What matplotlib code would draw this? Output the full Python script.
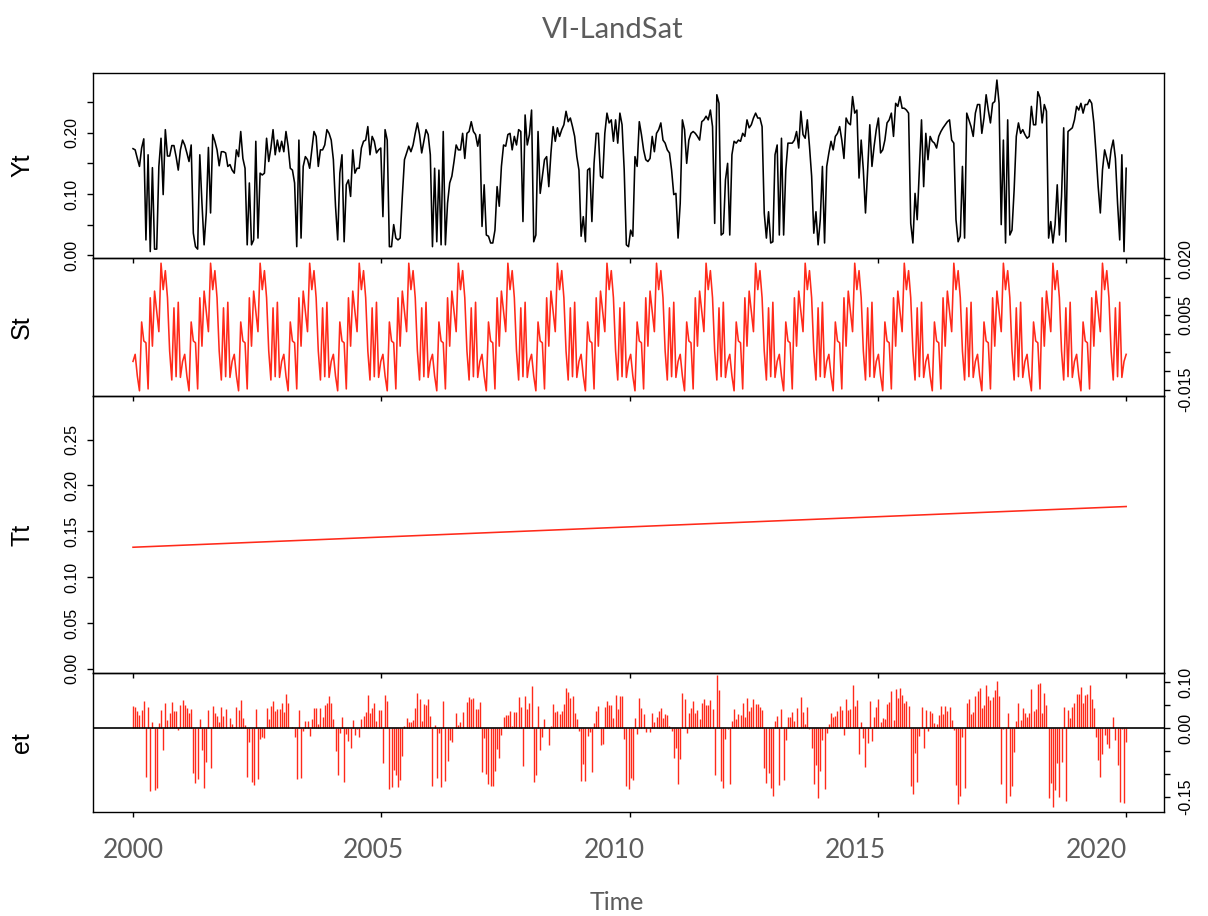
import numpy as np
import matplotlib
matplotlib.use("Agg")
import matplotlib.pyplot as plt
from matplotlib.ticker import FixedLocator, FixedFormatter
from matplotlib.transforms import blended_transform_factory

# ---------------- data ----------------
title = "VI-LandSat"
panel_labels = ["Yt", "St", "Tt", "et"]
year_labels = [2000, 2005, 2010, 2015, 2020]
x_title = "Time"
t_start = 2000.0
t_step = 1 / 22.35          # time between observations (label-year units)
period = 23                 # observations per seasonal cycle

yt_c00 = [0.174,0.172,0.158,0.145,0.175,0.190,0.025,0.164,0.006,0.143,0.010,0.010,0.145,0.191,0.099,0.205,0.162,0.162,0.179,0.179,0.161,0.139,0.172]
yt_c01 = [0.188,0.180,0.167,0.153,0.180,0.036,0.014,0.010,0.164,0.085,0.017,0.069,0.176,0.069,0.197,0.186,0.172,0.146,0.169,0.169,0.167,0.145,0.148]
yt_c02 = [0.139,0.134,0.172,0.161,0.202,0.158,0.142,0.017,0.118,0.017,0.025,0.186,0.028,0.134,0.131,0.134,0.191,0.153,0.175,0.205,0.164,0.188,0.169]
yt_c03 = [0.186,0.169,0.202,0.178,0.142,0.139,0.118,0.014,0.188,0.028,0.145,0.161,0.156,0.142,0.172,0.202,0.194,0.145,0.172,0.172,0.180,0.205,0.199]
yt_c04 = [0.188,0.156,0.080,0.025,0.134,0.164,0.022,0.115,0.123,0.096,0.172,0.134,0.142,0.142,0.175,0.186,0.188,0.210,0.164,0.194,0.186,0.167,0.172]
yt_c05 = [0.175,0.063,0.205,0.188,0.014,0.014,0.050,0.028,0.025,0.028,0.096,0.156,0.167,0.178,0.169,0.180,0.199,0.216,0.197,0.167,0.186,0.205,0.197]
yt_c06 = [0.164,0.014,0.142,0.022,0.139,0.017,0.202,0.017,0.085,0.118,0.129,0.153,0.180,0.172,0.172,0.199,0.158,0.199,0.202,0.218,0.202,0.197,0.178]
yt_c07 = [0.197,0.047,0.115,0.033,0.031,0.020,0.020,0.041,0.112,0.080,0.145,0.180,0.178,0.197,0.199,0.172,0.194,0.180,0.205,0.202,0.055,0.229,0.180]
yt_c08 = [0.197,0.237,0.022,0.033,0.202,0.101,0.129,0.156,0.161,0.112,0.167,0.210,0.186,0.208,0.194,0.205,0.213,0.235,0.218,0.224,0.210,0.194,0.161]
yt_c09 = [0.139,0.031,0.063,0.022,0.139,0.142,0.055,0.150,0.199,0.199,0.129,0.126,0.199,0.232,0.216,0.221,0.186,0.221,0.183,0.232,0.213,0.139,0.017]
yt_c10 = [0.014,0.041,0.031,0.161,0.145,0.218,0.197,0.172,0.156,0.153,0.158,0.194,0.169,0.199,0.205,0.216,0.188,0.183,0.172,0.167,0.139,0.099,0.101]
yt_c11 = [0.028,0.085,0.221,0.205,0.150,0.188,0.199,0.202,0.199,0.194,0.188,0.218,0.221,0.227,0.221,0.237,0.210,0.052,0.262,0.248,0.033,0.036,0.123]
yt_c12 = [0.150,0.033,0.164,0.186,0.183,0.188,0.186,0.199,0.194,0.221,0.208,0.213,0.224,0.232,0.224,0.224,0.210,0.069,0.028,0.071,0.020,0.022,0.164]
yt_c13 = [0.180,0.033,0.191,0.033,0.139,0.183,0.183,0.183,0.188,0.202,0.175,0.235,0.197,0.191,0.221,0.178,0.129,0.036,0.071,0.017,0.058,0.145,0.020]
yt_c14 = [0.145,0.167,0.186,0.172,0.194,0.199,0.210,0.188,0.158,0.224,0.216,0.213,0.259,0.232,0.237,0.126,0.188,0.139,0.069,0.139,0.213,0.145,0.178]
yt_c15 = [0.205,0.224,0.167,0.172,0.188,0.216,0.221,0.232,0.194,0.248,0.243,0.259,0.240,0.240,0.237,0.232,0.052,0.020,0.101,0.058,0.139,0.221,0.112]
yt_c16 = [0.199,0.156,0.194,0.186,0.183,0.175,0.194,0.202,0.208,0.213,0.218,0.221,0.188,0.183,0.058,0.022,0.031,0.145,0.028,0.232,0.221,0.210,0.194]
yt_c17 = [0.232,0.246,0.246,0.199,0.224,0.262,0.237,0.216,0.248,0.251,0.286,0.248,0.050,0.188,0.020,0.221,0.033,0.041,0.107,0.194,0.216,0.199,0.205]
yt_c18 = [0.197,0.191,0.194,0.243,0.213,0.213,0.267,0.257,0.216,0.246,0.235,0.028,0.055,0.020,0.050,0.115,0.033,0.096,0.208,0.022,0.202,0.205,0.208]
yt_c19 = [0.221,0.243,0.237,0.248,0.232,0.246,0.246,0.254,0.248,0.216,0.167,0.112,0.069,0.139,0.172,0.158,0.142,0.172,0.188,0.158,0.085,0.025,0.164]
yt_c20 = [0.006,0.142]

# one seasonal cycle of St (23 observations)
season = [-0.0074,-0.0055,-0.0113,-0.0153,0.0032,-0.0019,-0.0024,-0.0148,0.0097,-0.0033,
          0.0115,0.0061,0.0006,0.0190,0.0119,0.0170,0.0097,-0.0046,-0.0124,0.0070,
          -0.0115,0.0085,-0.0117]

# linear trend Tt: value at first and last observation
trend_start = 0.1326
trend_end = 0.1770

# ---------------- derived series ----------------
yt = np.array(yt_c00 + yt_c01 + yt_c02 + yt_c03 + yt_c04 + yt_c05 + yt_c06 + yt_c07
              + yt_c08 + yt_c09 + yt_c10 + yt_c11 + yt_c12 + yt_c13 + yt_c14 + yt_c15
              + yt_c16 + yt_c17 + yt_c18 + yt_c19 + yt_c20)
n = len(yt)
t = t_start + t_step * np.arange(n)
st = np.tile(np.array(season), n // period + 1)[:n]
tt = np.linspace(trend_start, trend_end, n)
et = yt - st - tt

# ---------------- figure ----------------
W, H = 1208, 916
fig = plt.figure(figsize=(W / 100, H / 100), dpi=100)
RED = "#ff2a1a"
GRAY = "#5c5c5c"
TICKFONT = "Liberation Sans"
GEOFONT = "Lato"

L, R = 93, 1164
rows = [(73, 258), (258, 396), (396, 673), (673, 812)]
axes = []
for top, bot in rows:
    ax = fig.add_axes([L / W, 1 - bot / H, (R - L) / W, (bot - top) / H])
    ax.set_facecolor("none")
    for s in ax.spines.values():
        s.set_linewidth(1.0)
        s.set_color("black")
    axes.append(ax)
ax_y, ax_s, ax_t, ax_e = axes

xlim = (1999.169, 2021.412)
xq = [t[0] + k * (t[-1] - t[0]) / 4 for k in range(5)]
for ax in axes:
    ax.set_xlim(*xlim)
    ax.set_xticks(xq)
    ax.tick_params(axis="x", direction="out", length=3.5, width=1.0,
                   labelbottom=False)

# series
ax_y.plot(t, yt, color="black", lw=1.15)
ax_s.plot(t, st, color=RED, lw=1.15)
ax_t.plot(t, tt, color=RED, lw=1.15)
ax_e.axhline(0, color="black", lw=1.2, zorder=3)
ax_e.vlines(t, 0, et, color=RED, lw=1.0)

ax_y.set_ylim(-0.0045, 0.2975)
ax_t.set_ylim(-0.0045, 0.2975)
ax_s.set_ylim(-0.0167, 0.0204)
ax_e.set_ylim(-0.1826, 0.1196)

def set_yaxis(ax, ticks, labels, side):
    ax.yaxis.set_major_locator(FixedLocator(ticks))
    ax.yaxis.set_major_formatter(FixedFormatter(labels))
    if side == "right":
        ax.yaxis.tick_right()
    else:
        ax.yaxis.tick_left()
    ax.tick_params(axis="y", direction="out", length=4, width=1.0,
                   labelsize=11.5, labelrotation=90, pad=6)
    for lab in ax.get_yticklabels():
        lab.set_fontfamily(TICKFONT)
        lab.set_verticalalignment("center")

yt_ticks = [0.0, 0.05, 0.10, 0.15, 0.20, 0.25]
set_yaxis(ax_y, yt_ticks, ["0.00", "", "0.10", "", "0.20", ""], "left")
st_ticks = [-0.015, -0.010, -0.005, 0.0, 0.005, 0.010, 0.015, 0.020]
set_yaxis(ax_s, st_ticks, ["-0.015", "", "", "", "0.005", "", "", "0.020"], "right")
set_yaxis(ax_t, yt_ticks, ["0.00", "0.05", "0.10", "0.15", "0.20", "0.25"], "left")
et_ticks = [-0.15, -0.10, -0.05, 0.0, 0.05, 0.10]
set_yaxis(ax_e, et_ticks, ["-0.15", "", "", "0.00", "", "0.10"], "right")

# panel labels
for (top, bot), lab in zip(rows, panel_labels):
    fig.text(22 / W, 1 - (top + bot) / 2 / H, lab, rotation=90, ha="center",
             va="center", fontsize=18, family=TICKFONT, color="black")

# time labels
tr = blended_transform_factory(ax_e.transData, ax_e.transAxes)
for yr in year_labels:
    ax_e.text(yr, -(850 - 812) / (812 - 673), str(yr), transform=tr, ha="center",
              va="center", fontsize=19, family=GEOFONT, color=GRAY)

fig.text(617 / W, 1 - 902 / H, x_title, ha="center", va="center", fontsize=18,
         family=GEOFONT, color=GRAY)
fig.text(613 / W, 1 - 30 / H, title, ha="center", va="center", fontsize=21,
         family=GEOFONT, color=GRAY)

fig.savefig("out.png", dpi=100)
